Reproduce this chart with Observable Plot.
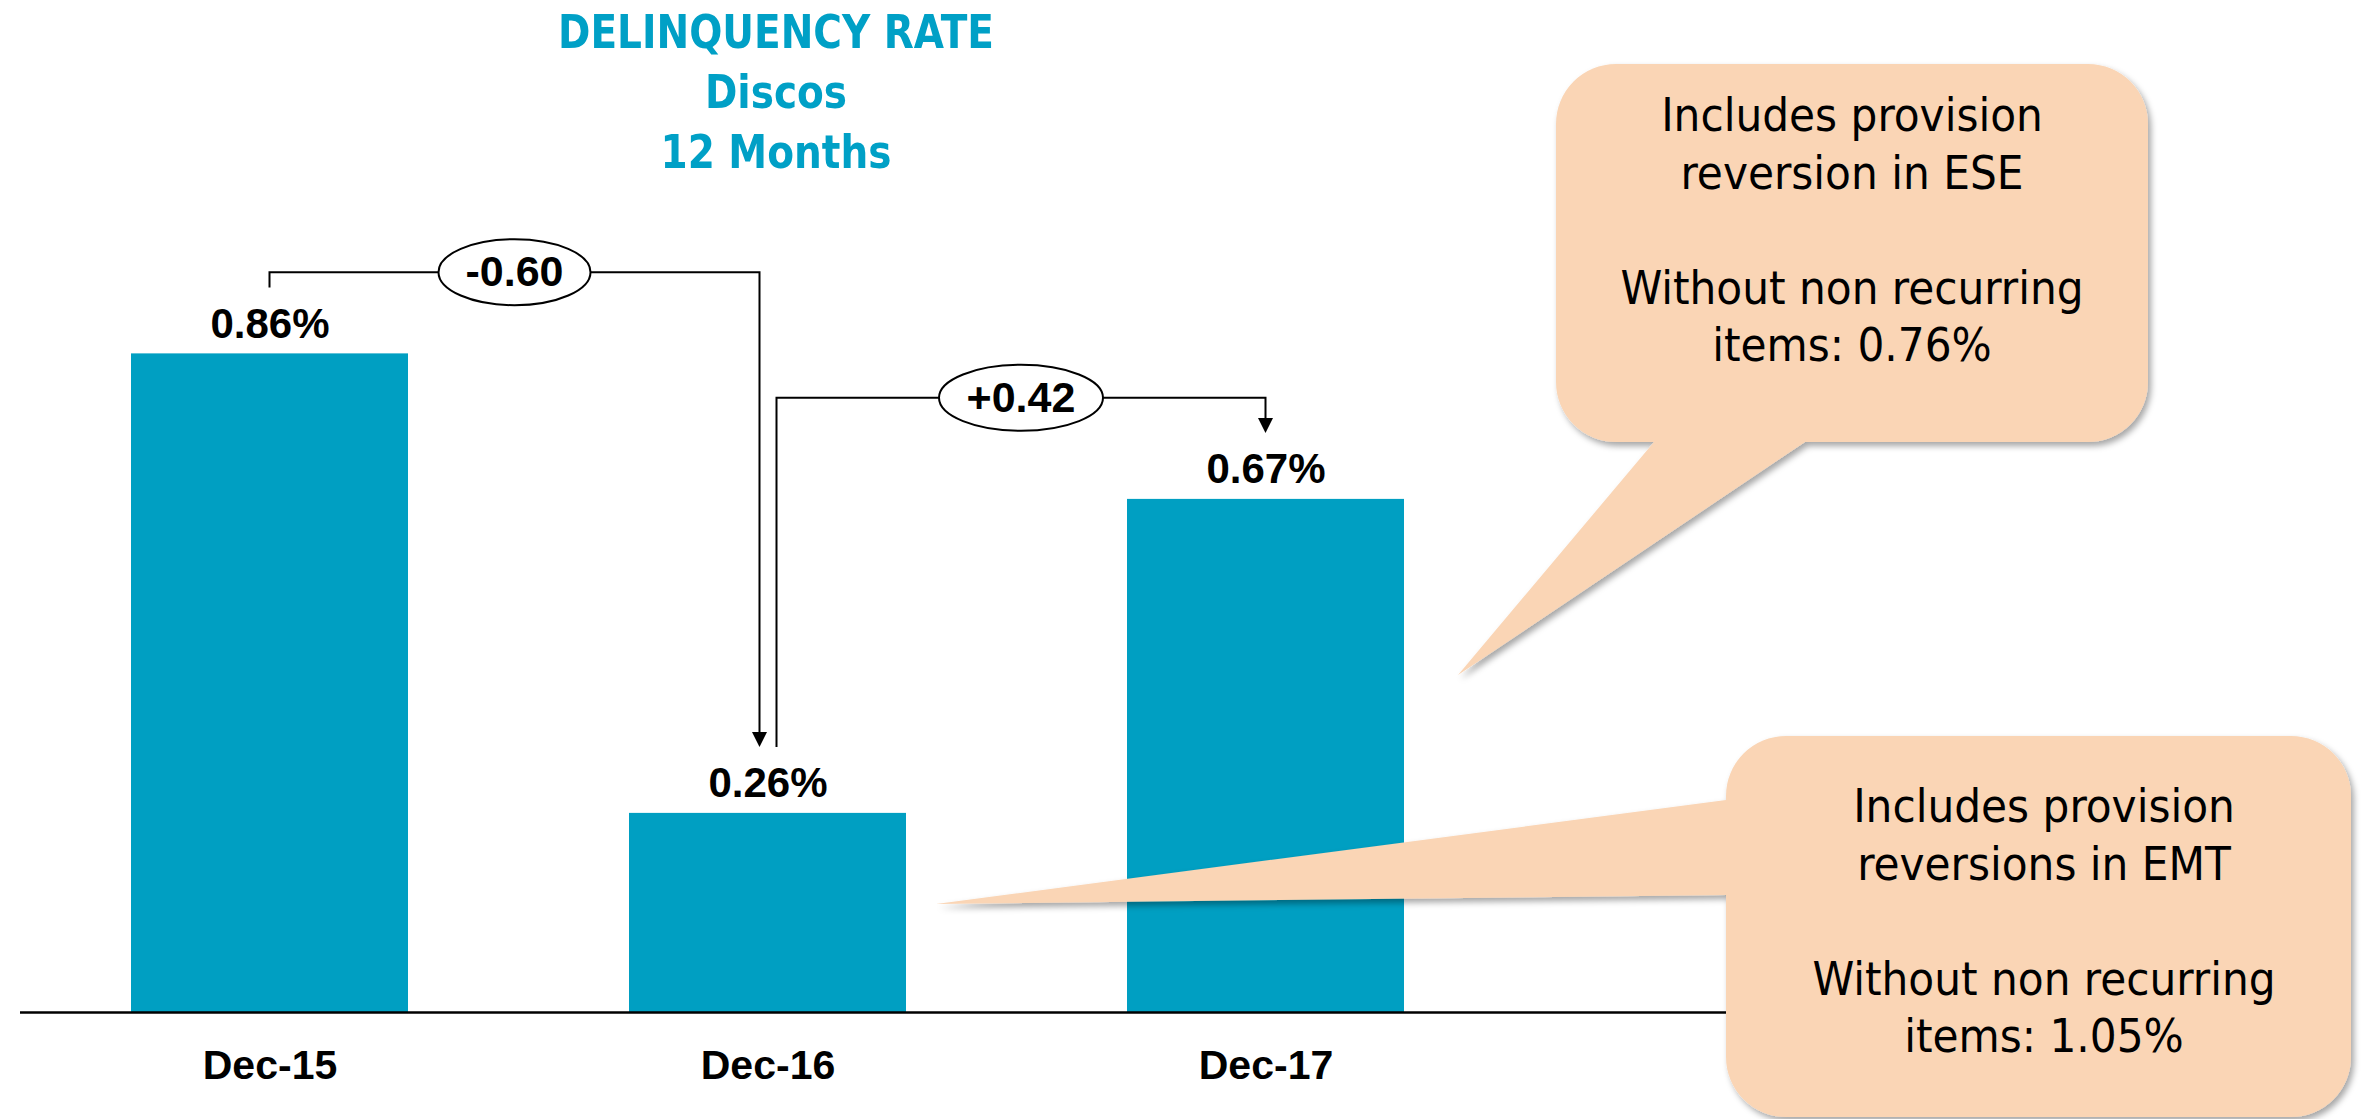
<!DOCTYPE html>
<html>
<head>
<meta charset="utf-8">
<script src="https://cdn.jsdelivr.net/npm/d3@7"></script>
<script src="https://cdn.jsdelivr.net/npm/@observablehq/plot@0.6"></script>
<style>
  html, body { margin: 0; padding: 0; background: #ffffff; }
  #wrap { position: relative; width: 2363px; height: 1119px; overflow: hidden; background: #ffffff; }
  #wrap svg { position: absolute; left: 0; top: 0; }
  #title {
    position: absolute; left: 0; top: 2px; width: 1552px; text-align: center;
    font-family: "DejaVu Sans Condensed", "DejaVu Sans", sans-serif; font-stretch: condensed;
    font-weight: bold; font-size: 47px; line-height: 60px; color: #00A0C6;
    transform: scaleX(0.923); transform-origin: 776px 0;
  }
</style>
</head>
<body>
<div id="wrap">
  <div id="title"><div>DELINQUENCY RATE</div><div>Discos</div><div>12 Months</div></div>
</div>
<script>
// ---- data ----
const categories = ["Dec-15", "Dec-16", "Dec-17"];
const rates = [0.86, 0.26, 0.67];
const rateLabels = ["0.86%", "0.26%", "0.67%"];

const changeFrom = ["Dec-15", "Dec-16"];
const changeTo = ["Dec-16", "Dec-17"];
const changeLabels = ["-0.60", "+0.42"];

const noteTargets = ["Dec-17", "Dec-16"];
const noteLines = [
  ["Includes provision", "reversion in ESE", "", "Without non recurring", "items: 0.76%"],
  ["Includes provision", "reversions in EMT", "", "Without non recurring", "items: 1.05%"]
];

const table = categories.map((c, i) => ({cat: c, rate: rates[i], label: rateLabels[i]}));

const BAR = "#009FC2";
const NOTE_FILL = "#FAD5B5";
const LABEL_FONT = "'Liberation Sans', Arial, sans-serif";
const NOTE_FONT = "'DejaVu Sans Condensed', 'DejaVu Sans', sans-serif";

const bandOf = x => (typeof x.bandwidth === "function" ? x.bandwidth() : x.bandwidth) || 0;

// ---- change brackets (annotation, placed through the scales) ----
function brackets(index, scales) {
  const x = scales.x, y = scales.y;
  const bw = bandOf(x);
  const cx = c => x(c) + bw / 2;
  const rateOf = c => rates[categories.indexOf(c)];
  const levels = [0.966, 0.802];
  const g = d3.create("svg:g");
  changeFrom.forEach((from, i) => {
    const to = changeTo[i];
    const x0 = cx(from) + (i === 0 ? 0 : 9);
    const x1 = cx(to) - (i === 0 ? 8 : 0);
    const yStart = y(rateOf(from)) - 66;
    const yEnd = y(rateOf(to)) - 66;
    const yl = y(levels[i]);
    g.append("path")
      .attr("d", `M${x0},${yStart}V${yl}H${x1}V${yEnd - 14}`)
      .attr("fill", "none").attr("stroke", "#000").attr("stroke-width", 2);
    g.append("path")
      .attr("d", `M${x1 - 7.5},${yEnd - 15}L${x1 + 7.5},${yEnd - 15}L${x1},${yEnd}Z`)
      .attr("fill", "#000");
    const mx = (x0 + x1) / 2;
    g.append("ellipse")
      .attr("cx", mx).attr("cy", yl).attr("rx", i === 0 ? 76 : 82).attr("ry", 33)
      .attr("fill", "#fff").attr("stroke", "#000").attr("stroke-width", 2);
    g.append("text")
      .attr("x", mx).attr("y", yl).attr("dy", "0.33em")
      .attr("text-anchor", "middle")
      .attr("font-family", LABEL_FONT).attr("font-weight", "bold").attr("font-size", 43)
      .attr("fill", "#000")
      .text(changeLabels[i]);
  });
  return g.node();
}

// ---- callout notes ----
function callouts(index, scales) {
  const x = scales.x, y = scales.y;
  const bw = bandOf(x);
  const g = d3.create("svg:g");
  const defs = g.append("defs");
  defs.append("filter").attr("id", "noteShadow")
    .attr("x", "-10%").attr("y", "-10%").attr("width", "130%").attr("height", "130%")
    .append("feDropShadow")
    .attr("dx", 3).attr("dy", 4).attr("stdDeviation", 3)
    .attr("flood-color", "#000").attr("flood-opacity", 0.35);
  const r = 60;

  // note 1 : box above right, tail from bottom edge
  {
    const tx = x(noteTargets[0]) + bw + 54, ty = y(0.44);
    const x0 = 1556, y0 = 64, x1 = 2148, y1 = 442, b1 = 1654, b2 = 1805;
    const d = `M${x0 + r},${y0}H${x1 - r}A${r},${r} 0 0 1 ${x1},${y0 + r}V${y1 - r}` +
      `A${r},${r} 0 0 1 ${x1 - r},${y1}H${b2}L${tx},${ty}L${b1},${y1}H${x0 + r}` +
      `A${r},${r} 0 0 1 ${x0},${y1 - r}V${y0 + r}A${r},${r} 0 0 1 ${x0 + r},${y0}Z`;
    g.append("path").attr("d", d).attr("fill", NOTE_FILL).attr("filter", "url(#noteShadow)");
    noteLines[0].forEach((t, k) => {
      if (!t) return;
      g.append("text").attr("x", (x0 + x1) / 2).attr("y", 131 + k * 57.5)
        .attr("text-anchor", "middle").attr("font-family", NOTE_FONT)
        .attr("font-stretch", "condensed").attr("font-size", 47).attr("fill", "#000").text(t);
    });
  }
  // note 2 : box lower right, tail from left edge
  {
    const tx = x(noteTargets[1]) + bw + 30, ty = y(0.141);
    const x0 = 1726, y0 = 736, x1 = 2351, y1 = 1117, l1 = 800, l2 = 895;
    const d = `M${x0 + r},${y0}H${x1 - r}A${r},${r} 0 0 1 ${x1},${y0 + r}V${y1 - r}` +
      `A${r},${r} 0 0 1 ${x1 - r},${y1}H${x0 + r}A${r},${r} 0 0 1 ${x0},${y1 - r}` +
      `V${l2}L${tx},${ty}L${x0},${l1}V${y0 + r}A${r},${r} 0 0 1 ${x0 + r},${y0}Z`;
    g.append("path").attr("d", d).attr("fill", NOTE_FILL).attr("filter", "url(#noteShadow)");
    noteLines[1].forEach((t, k) => {
      if (!t) return;
      g.append("text").attr("x", 2044).attr("y", 822 + k * 57.5)
        .attr("text-anchor", "middle").attr("font-family", NOTE_FONT)
        .attr("font-stretch", "condensed").attr("font-size", 47).attr("fill", "#000").text(t);
    });
  }
  return g.node();
}

const chart = Plot.plot({
  width: 2363,
  height: 1119,
  marginLeft: 20,
  marginRight: 623,
  marginTop: 93,
  marginBottom: 107,
  x: {domain: categories, paddingInner: 0.443, paddingOuter: 0.4467, align: 0.249},
  y: {domain: [0, 1.2], axis: null},
  style: {fontFamily: LABEL_FONT, background: "transparent", overflow: "visible"},
  marks: [
    Plot.barY(table, {x: "cat", y: "rate", fill: BAR}),
    Plot.ruleY([0], {stroke: "#000", strokeWidth: 2.5}),
    Plot.axisX({tickSize: 0, tickPadding: 37, fontSize: 41, fontWeight: "bold", fill: "#000", label: null}),
    Plot.text(table, {x: "cat", y: "rate", text: "label", dy: -16, lineAnchor: "bottom",
      fontSize: 42, fontWeight: "bold", fill: "#000"}),
    brackets,
    callouts
  ]
});

const wrap = document.getElementById("wrap");
wrap.insertBefore(chart, wrap.firstChild);
</script>
</body>
</html>
